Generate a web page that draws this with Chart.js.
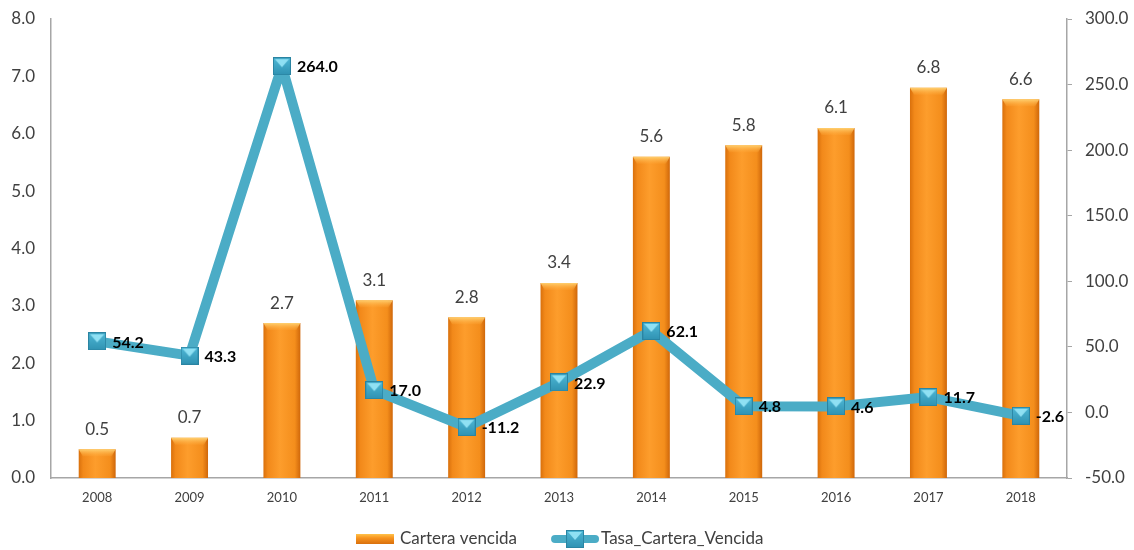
<!DOCTYPE html>
<html>
<head>
<meta charset="utf-8">
<script src="https://cdn.jsdelivr.net/npm/chart.js@4.4.1/dist/chart.umd.min.js"></script>
<style>
  html, body { margin: 0; background: #fff; }
  #wrap { width: 1134px; height: 550px; }
</style>
</head>
<body>
<div id="wrap"><canvas id="chart"></canvas></div>
<script>
// datos
const years = ['2008','2009','2010','2011','2012','2013','2014','2015','2016','2017','2018'];
const carteraVencida = [0.5, 0.7, 2.7, 3.1, 2.8, 3.4, 5.6, 5.8, 6.1, 6.8, 6.6];
const tasaCarteraVencida = [54.2, 43.3, 264.0, 17.0, -11.2, 22.9, 62.1, 4.8, 4.6, 11.7, -2.6];
const seriesNames = ['Cartera vencida', 'Tasa_Cartera_Vencida'];

const FONT = 'Lato, "Noto Sans", sans-serif';
const AXIS_GREY = '#a6a6a6';
const TEAL = '#4bacc6';

// marcador cuadrado con brillo en la parte superior
function makeMarker(size){
  const c = document.createElement('canvas');
  c.width = size; c.height = size;
  const g = c.getContext('2d');
  const grd = g.createLinearGradient(0, 0, 0, size);
  grd.addColorStop(0, '#4fb8d6');
  grd.addColorStop(1, '#2f92b2');
  g.fillStyle = grd;
  g.fillRect(0, 0, size, size);
  g.fillStyle = '#8fe0f3';
  g.beginPath();
  g.moveTo(2, 2); g.lineTo(size - 2, 2); g.lineTo(size / 2, size / 2 + 1); g.closePath();
  g.fill();
  g.strokeStyle = '#2a84a2';
  g.lineWidth = 1;
  g.strokeRect(0.5, 0.5, size - 1, size - 1);
  return c;
}
const marker = makeMarker(18);

// degradado horizontal de cada barra
function barGradient(ctx){
  const chart = ctx.chart;
  const xs = chart.scales && chart.scales.x;
  if (!chart.chartArea || !xs) return '#f7931e';
  const cx = xs.getPixelForValue(ctx.dataIndex);
  const w = (xs.width / years.length) * 0.4;
  const g = chart.ctx.createLinearGradient(cx - w / 2, 0, cx + w / 2, 0);
  g.addColorStop(0, '#d9700c');
  g.addColorStop(0.12, '#f2891a');
  g.addColorStop(0.45, '#fd9d2c');
  g.addColorStop(0.85, '#f48e1c');
  g.addColorStop(1, '#cf670a');
  return g;
}

// bisel claro arriba de cada barra
const barBevel = {
  id: 'barBevel',
  afterDatasetDraw(chart, args){
    if (args.index !== 0) return;
    const c = chart.ctx;
    args.meta.data.forEach(bar => {
      const l = bar.x - bar.width / 2, r = bar.x + bar.width / 2, t = bar.y;
      const g = c.createLinearGradient(0, t, 0, t + 7);
      g.addColorStop(0, '#ffd070');
      g.addColorStop(1, 'rgba(255,170,60,0.2)');
      c.save();
      c.fillStyle = g;
      c.beginPath();
      c.moveTo(l, t); c.lineTo(r, t); c.lineTo(r - 4, t + 7); c.lineTo(l + 4, t + 7); c.closePath();
      c.fill();
      c.restore();
    });
  }
};

// etiquetas de valores
const valueLabels = {
  id: 'valueLabels',
  afterDatasetsDraw(chart){
    const c = chart.ctx;
    c.save();
    const bars = chart.getDatasetMeta(0).data;
    c.font = '17px ' + FONT;
    c.fillStyle = '#404040';
    c.textAlign = 'center';
    c.textBaseline = 'middle';
    bars.forEach((b, i) => c.fillText(carteraVencida[i].toFixed(1), b.x, b.y - 20));

    const pts = chart.getDatasetMeta(1).data;
    c.font = 'bold 16px ' + FONT;
    c.fillStyle = '#000';
    c.textAlign = 'left';
    pts.forEach((p, i) => c.fillText(tasaCarteraVencida[i].toFixed(1), p.x + 15, p.y + 1));
    c.restore();
  }
};

// leyenda inferior
const bottomLegend = {
  id: 'bottomLegend',
  afterDraw(chart){
    const c = chart.ctx;
    const y = 539;
    c.save();
    c.font = '17px ' + FONT;
    c.textBaseline = 'middle';
    c.fillStyle = '#404040';
    const w1 = c.measureText(seriesNames[0]).width;
    let x = 356;

    const g = c.createLinearGradient(0, y - 5, 0, y + 5);
    g.addColorStop(0, '#ffc24a');
    g.addColorStop(0.4, '#f7931e');
    g.addColorStop(1, '#d9700c');
    c.fillStyle = g;
    c.fillRect(x, y - 5, 38, 10);
    x += 44;
    c.fillStyle = '#404040';
    c.fillText(seriesNames[0], x, y);
    x += w1 + 34;

    c.strokeStyle = TEAL;
    c.lineWidth = 8;
    c.lineCap = 'round';
    c.beginPath(); c.moveTo(x + 4, y); c.lineTo(x + 44, y); c.stroke();
    c.drawImage(marker, x + 24 - 9, y - 9);
    x += 50;
    c.fillText(seriesNames[1], x, y);
    c.restore();
  }
};

// sin margen extra por las etiquetas extremas del eje vertical
function fixY(width){
  return s => { s.width = width; s.paddingTop = 0; s.paddingBottom = 0; };
}

new Chart(document.getElementById('chart'), {
  data: {
    labels: years,
    datasets: [
      {
        type: 'bar',
        label: seriesNames[0],
        data: carteraVencida,
        yAxisID: 'y',
        backgroundColor: barGradient,
        barPercentage: 0.4,
        categoryPercentage: 1.0,
        order: 2
      },
      {
        type: 'line',
        label: seriesNames[1],
        data: tasaCarteraVencida,
        yAxisID: 'y1',
        borderColor: TEAL,
        borderWidth: 10,
        borderJoinStyle: 'round',
        tension: 0,
        pointStyle: marker,
        pointRadius: 9,
        order: 1
      }
    ]
  },
  plugins: [barBevel, valueLabels, bottomLegend],
  options: {
    responsive: true,
    maintainAspectRatio: false,
    animation: false,
    layout: { padding: { top: 15, bottom: 40, left: 0, right: 0 } },
    plugins: { legend: { display: false }, tooltip: { enabled: false } },
    scales: {
      x: {
        grid: { display: false, drawTicks: false },
        border: { display: true, color: AXIS_GREY, width: 1.5 },
        ticks: { color: '#404040', font: { family: FONT, size: 13 }, padding: 12, maxRotation: 0 },
        afterFit(s){ s.height = 32; s.paddingLeft = 0; s.paddingRight = 0; }
      },
      y: {
        position: 'left',
        min: 0, max: 8,
        grid: { display: false, drawTicks: false },
        border: { display: true, color: AXIS_GREY, width: 1.5 },
        ticks: { stepSize: 1, color: '#404040', font: { family: FONT, size: 17 }, padding: 16,
                 callback: v => v.toFixed(1) },
        afterFit: fixY(51)
      },
      y1: {
        position: 'right',
        min: -50, max: 300,
        grid: { display: true, drawOnChartArea: false, drawTicks: true, tickLength: 5, color: AXIS_GREY },
        border: { display: true, color: AXIS_GREY, width: 1.5 },
        ticks: { stepSize: 50, color: '#404040', font: { family: FONT, size: 17 }, padding: 13,
                 callback: v => v.toFixed(1) },
        afterFit: fixY(67)
      }
    }
  }
});
</script>
</body>
</html>
